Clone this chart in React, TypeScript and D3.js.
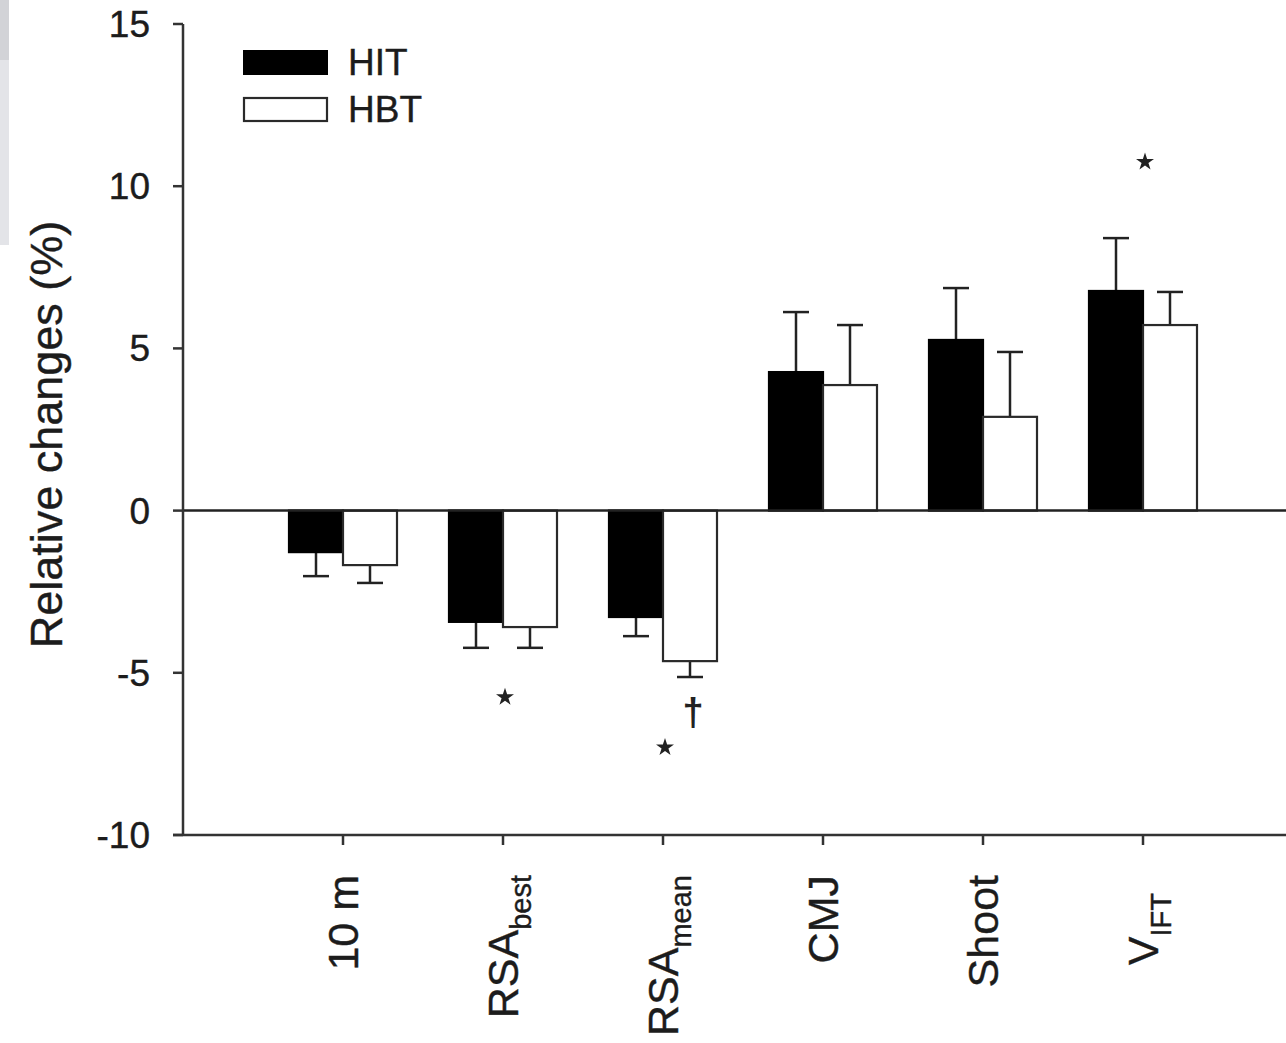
import React from "react";
import * as d3 from "d3";

const categories = ["10 m", "RSA_best", "RSA_mean", "CMJ", "Shoot", "V_IFT"];
const series = ["HIT", "HBT"];
const hitValues = [-1.28, -3.43, -3.28, 4.27, 5.26, 6.77];
const hitErrors = [0.74, 0.8, 0.59, 1.85, 1.6, 1.63];
const hbtValues = [-1.68, -3.59, -4.64, 3.87, 2.89, 5.72];
const hbtErrors = [0.55, 0.64, 0.49, 1.85, 2.0, 1.02];
const yTicks = [-10, -5, 0, 5, 10, 15];
// annotations: category, where (center or series), symbol, y value
const annotations = [
  { cat: "RSA_best", at: "center", sym: "star", y: -5.75 },
  { cat: "RSA_mean", at: "center", sym: "star", y: -7.3 },
  { cat: "RSA_mean", at: "HBT", sym: "dagger", y: -6.24 },
  { cat: "V_IFT", at: "center", sym: "star", y: 10.75 },
];

const W = 1286;
const H = 1043;
const FONT = "'Liberation Sans', Arial, Helvetica, sans-serif";
const INK = "#1c1c1c";

export default function App() {
  const y = d3.scaleLinear().domain([-10, 15]).range([835, 24]);
  const x = d3.scaleBand().domain(categories).range([263, 1223]).padding(0);
  const inner = d3.scaleBand().domain(series).range([0, 108]);
  const center = (c: string) => (x(c) as number) + x.bandwidth() / 2;
  const groupStart = (c: string) => center(c) - 54;
  const axisX = 183;
  const data = [
    { s: "HIT", values: hitValues, errs: hitErrors, fill: "#000", stroke: "#000" },
    { s: "HBT", values: hbtValues, errs: hbtErrors, fill: "#fff", stroke: "#2a2a2a" },
  ];
  const star = d3.symbol().type(d3.symbolStar).size(100)();

  const renderLabel = (c: string) => {
    const [main, sub] = c.split("_");
    const cx = center(c);
    const endY = c === "V_IFT" ? 893 : 875;
    return (
      <text
        key={c}
        transform={`translate(${cx + 15},${endY}) rotate(-90)`}
        textAnchor="end"
        fontFamily={FONT}
        fontSize={43}
        fill={INK}
        stroke={INK}
        strokeWidth={0.4}
      >
        {main}
        {sub && (
          <tspan fontSize={29} dy={13}>
            {sub}
          </tspan>
        )}
      </text>
    );
  };

  return (
    <svg
      width={W}
      height={H}
      style={{ position: "absolute", left: 0, top: 0, background: "#fff" }}
    >
      <rect x={0} y={0} width={W} height={H} fill="#fff" />
      <rect x={0} y={0} width={9} height={245} fill="#e3e4e8" />
      <rect x={0} y={0} width={9} height={60} fill="#d2d3d7" />

      {/* bars */}
      {data.map((d) =>
        categories.map((c, i) => {
          const v = d.values[i];
          const bx = groupStart(c) + (inner(d.s) as number);
          const bw = inner.bandwidth();
          const y0 = y(0);
          const y1 = y(v);
          const errEnd = v >= 0 ? y(v + d.errs[i]) : y(v - d.errs[i]);
          const ex = bx + bw / 2;
          return (
            <g key={d.s + c}>
              <line x1={ex} x2={ex} y1={y1} y2={errEnd} stroke="#222" strokeWidth={2.5} />
              <line x1={ex - 13} x2={ex + 13} y1={errEnd} y2={errEnd} stroke="#222" strokeWidth={2.5} />
              <rect
                x={bx}
                y={Math.min(y0, y1)}
                width={bw}
                height={Math.abs(y1 - y0)}
                fill={d.fill}
                stroke={d.stroke}
                strokeWidth={2.2}
              />
            </g>
          );
        })
      )}

      {/* zero line */}
      <line x1={axisX} x2={W} y1={y(0)} y2={y(0)} stroke="#222" strokeWidth={2.5} />

      {/* y axis */}
      <line x1={axisX} x2={axisX} y1={y(15)} y2={y(-10)} stroke="#333" strokeWidth={2.5} />
      {yTicks.map((t) => (
        <g key={t}>
          <line x1={axisX - 10} x2={axisX} y1={y(t)} y2={y(t)} stroke="#333" strokeWidth={2.5} />
          <text
            x={150}
            y={y(t) + 13}
            textAnchor="end"
            fontFamily={FONT}
            fontSize={37}
            fill={INK}
            stroke={INK}
            strokeWidth={0.4}
          >
            {t}
          </text>
        </g>
      ))}
      <text
        transform={`translate(62,${y(2.5) + 5}) rotate(-90)`}
        textAnchor="middle"
        fontFamily={FONT}
        fontSize={45}
        fill={INK}
        stroke={INK}
        strokeWidth={0.4}
      >
        Relative changes (%)
      </text>

      {/* x axis */}
      <line x1={173} x2={W} y1={y(-10)} y2={y(-10)} stroke="#333" strokeWidth={2.5} />
      {categories.map((c) => (
        <line key={c} x1={center(c)} x2={center(c)} y1={y(-10)} y2={y(-10) + 10} stroke="#333" strokeWidth={2.5} />
      ))}
      {categories.map(renderLabel)}

      {/* annotations */}
      {annotations.map((a, i) => {
        const ax =
          a.at === "center" ? center(a.cat) : groupStart(a.cat) + (inner(a.at) as number) + inner.bandwidth() / 2;
        if (a.sym === "star") {
          return <path key={i} d={star as string} transform={`translate(${ax + 2},${y(a.y)})`} fill="#222" />;
        }
        return (
          <text key={i} x={ax + 3} y={y(a.y) + 12} textAnchor="middle" fontFamily={FONT} fontSize={38} fontWeight="bold" fill="#222">
            †
          </text>
        );
      })}

      {/* legend */}
      <rect x={244} y={51} width={83} height={23} fill="#000" stroke="#000" strokeWidth={2} />
      <text x={348} y={75} fontFamily={FONT} fontSize={37} fill={INK} stroke={INK} strokeWidth={0.4}>HIT</text>
      <rect x={244} y={98} width={83} height={23} fill="#fff" stroke="#2a2a2a" strokeWidth={2.2} />
      <text x={348} y={122} fontFamily={FONT} fontSize={37} fill={INK} stroke={INK} strokeWidth={0.4}>HBT</text>
    </svg>
  );
}
